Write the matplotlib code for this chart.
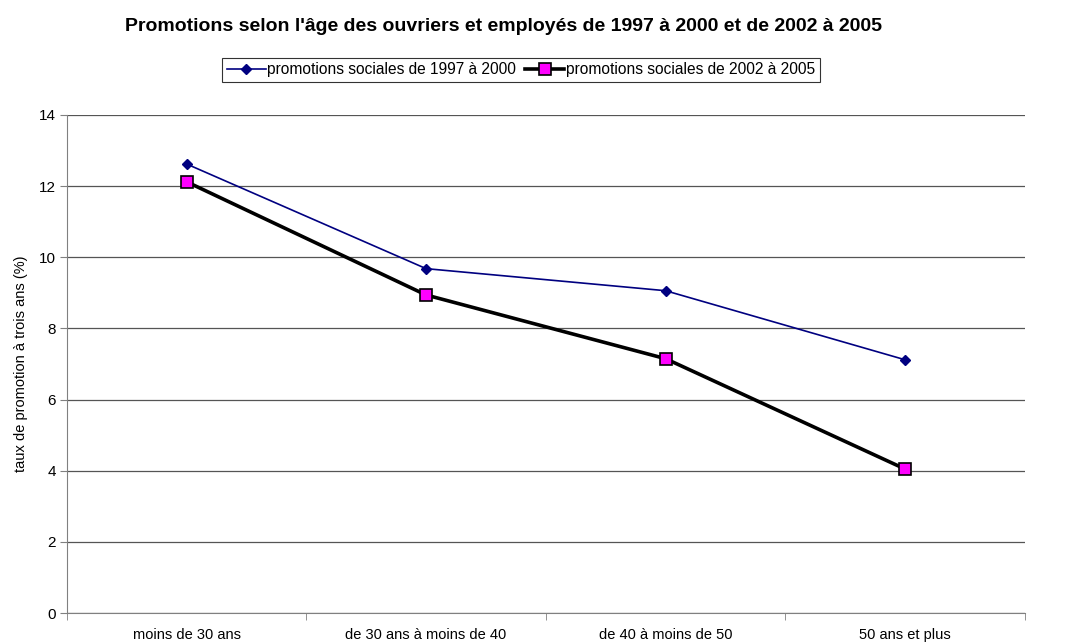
import matplotlib
matplotlib.use("Agg")
import matplotlib.pyplot as plt
import numpy as np

categories = ["moins de 30 ans", "de 30 ans à moins de 40", "de 40 à moins de 50", "50 ans et plus"]
serie_1997 = [12.62, 9.68, 9.06, 7.12]
serie_2002 = [12.12, 8.94, 7.15, 4.05]
label_1997 = "promotions sociales de 1997 à 2000"
label_2002 = "promotions sociales de 2002 à 2005"
yticks = [0, 2, 4, 6, 8, 10, 12, 14]

plt.rcParams['font.family'] = ['Liberation Sans', 'DejaVu Sans']

fig = plt.figure(figsize=(10.73, 6.42), dpi=100)
ax = fig.add_axes([0.0624, 0.045, 0.8926, 0.776])

x = np.arange(len(categories))
ax.plot(x, serie_1997, color='#000080', lw=1.2, marker='D', ms=5.5,
        mfc='#000080', mec='#000080', label=label_1997, zorder=3)
ax.plot(x, serie_2002, color='black', lw=2.6, marker='s', ms=9,
        mfc='#FF00FF', mec='black', mew=1.2, label=label_2002, zorder=4)

ax.set_xlim(-0.5, len(categories) - 0.5)
ax.set_ylim(0, 14)
ax.set_yticks(yticks)
ax.set_yticklabels([str(t) for t in yticks], fontsize=11)
ax.set_xticks(x)
ax.set_xticklabels(categories, fontsize=10.5)
ax.set_xticks(np.arange(-0.5, len(categories), 1.0), minor=True)
ax.tick_params(axis='x', which='major', length=0, pad=11)
ax.tick_params(axis='x', which='minor', length=5, color='#808080', direction='out')
ax.tick_params(axis='y', length=5, color='#808080', direction='out', pad=3)

ax.grid(axis='y', color='#555555', lw=0.9)
ax.set_axisbelow(True)
for side in ['top', 'right']:
    ax.spines[side].set_visible(False)
ax.spines['left'].set_color('#808080')
ax.spines['bottom'].set_color('#808080')

ax.set_ylabel("taux de promotion à trois ans (%)", fontsize=10.5, labelpad=8)

fig.text(0.469, 0.958, "Promotions selon l'âge des ouvriers et employés de 1997 à 2000 et de 2002 à 2005",
         ha='center', va='center', fontsize=14, fontweight='bold')

leg = fig.legend(loc='center', bbox_to_anchor=(0.4855, 0.891), ncol=2, fontsize=11.2,
                 frameon=True, fancybox=False, edgecolor='black', handlelength=2.5,
                 columnspacing=0.6, handletextpad=0.1, borderpad=0.3, borderaxespad=0)
leg.get_frame().set_linewidth(0.8)

fig.savefig("out.png", dpi=100)
